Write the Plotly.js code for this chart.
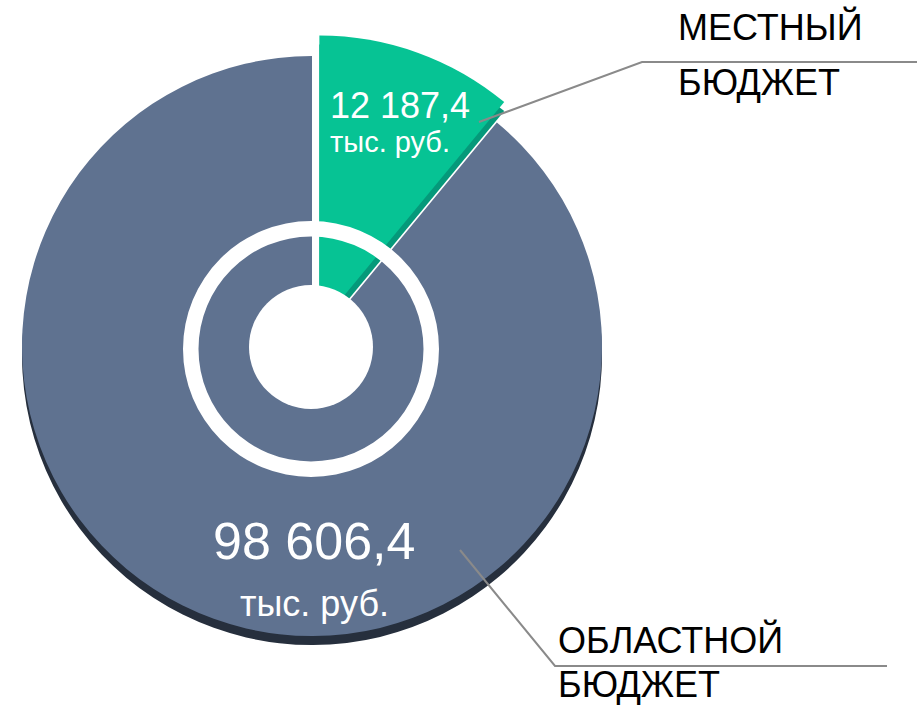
<!DOCTYPE html>
<html><head><meta charset="utf-8">
<script src="https://cdn.plot.ly/plotly-3.0.1.min.js"></script>
<style>html,body{margin:0;padding:0;background:#fff;} #chart{width:917px;height:705px;}</style>
</head><body><div id="chart"></div>
<script>
// ---- data ----
const categories = ['МЕСТНЫЙ БЮДЖЕТ', 'ОБЛАСТНОЙ БЮДЖЕТ'];
const labelLines = [['МЕСТНЫЙ', 'БЮДЖЕТ'], ['ОБЛАСТНОЙ', 'БЮДЖЕТ']];
const values = [12187.4, 98606.4];
const unit = 'тыс. руб.';
const colors = ['#06c394', '#5f7290'];
const edgeColors = ['#05997a', '#262f3d'];

// ---- helpers ----
const W = 917, H = 705;
function fmt(v) { const s = v.toFixed(1).split('.'); return s[0].replace(/\B(?=(\d{3})+(?!\d))/g, ' ') + ',' + s[1]; }
const px = p => p / W, py = p => 1 - p / H;
function dom(cx, cy, half) { return { x: [px(cx - half), px(cx + half)], y: [py(cy + half), py(cy - half)] }; }

const R = 290, PULL = 0.075, half = R * (1 + PULL);
const base = { type: 'pie', values: values, labels: categories, sort: false, direction: 'clockwise', rotation: 0,
  textinfo: 'none', hoverinfo: 'skip', showlegend: false, pull: [PULL, 0] };

const traces = [
  Object.assign({}, base, { marker: { colors: edgeColors, line: { width: 0 } }, domain: dom(312, 355, half) }),
  Object.assign({}, base, { marker: { colors: colors, line: { width: 0 } }, domain: dom(312, 346, half) }),
  { type: 'pie', values: [1], labels: ['ring'], hole: 112.5 / 128, sort: false, textinfo: 'none', hoverinfo: 'skip',
    showlegend: false, marker: { colors: ['#ffffff'], line: { width: 0 } }, domain: dom(311, 349, 128) },
  { type: 'pie', values: [1], labels: ['hole'], sort: false, textinfo: 'none', hoverinfo: 'skip',
    showlegend: false, marker: { colors: ['#ffffff'], line: { width: 0 } }, domain: dom(311, 347, 62) }
];

const F = 'Liberation Sans, Arial, sans-serif';
function ann(text, x, y, size, color, xanchor) {
  return { text: text, x: px(x), y: py(y), xref: 'paper', yref: 'paper', xanchor: xanchor, yanchor: 'middle',
    showarrow: false, font: { family: F, size: size, color: color } };
}
const annotations = [
  ann(fmt(values[0]), 328, 105.4, 36, '#ffffff', 'left'),
  ann(unit, 328, 141.9, 29, '#ffffff', 'left'),
  ann(fmt(values[1]), 314, 541, 52, '#ffffff', 'center'),
  ann(unit, 314, 603, 36, '#ffffff', 'center'),
  ann(labelLines[0][0], 676, 27.4, 36, '#000000', 'left'),
  ann(labelLines[0][1], 676, 82.4, 36, '#000000', 'left'),
  ann(labelLines[1][0], 556, 640.4, 36, '#000000', 'left'),
  ann(labelLines[1][1], 556, 684.4, 36, '#000000', 'left')
];

function path(pts) { return pts.map((p, i) => (i ? 'L' : 'M') + px(p[0]) + ',' + py(p[1])).join(' '); }
const shapes = [
  { type: 'path', xref: 'paper', yref: 'paper', path: path([[479, 122], [642, 62], [917, 62]]), line: { color: '#8a8a8a', width: 2 } },
  { type: 'path', xref: 'paper', yref: 'paper', path: path([[460, 550], [555, 666], [887, 666]]), line: { color: '#8a8a8a', width: 2 } }
];

Plotly.newPlot('chart', traces, {
  width: W, height: H, margin: { l: 0, r: 0, t: 0, b: 0 },
  paper_bgcolor: '#ffffff', plot_bgcolor: '#ffffff', showlegend: false,
  annotations: annotations, shapes: shapes
}, { staticPlot: true });
</script></body></html>
